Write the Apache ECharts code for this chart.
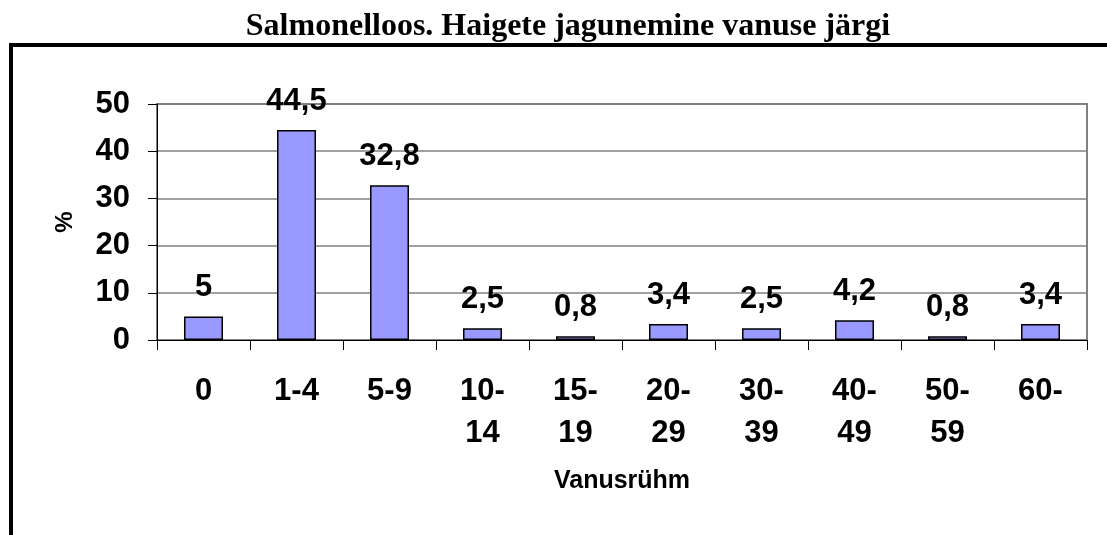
<!DOCTYPE html>
<html>
<head>
<meta charset="utf-8">
<script src="https://cdn.jsdelivr.net/npm/echarts@6/dist/echarts.min.js"></script>
<style>
  html, body { margin: 0; padding: 0; background: #fff; }
  #chart { width: 1107px; height: 535px; }
</style>
</head>
<body>
<div id="chart"></div>
<script>
const ageGroups = ['0', '1-4', '5-9', '10-\n14', '15-\n19', '20-\n29', '30-\n39', '40-\n49', '50-\n59', '60-'];
const shares = [5, 44.5, 32.8, 2.5, 0.8, 3.4, 2.5, 4.2, 0.8, 3.4];

const chart = echarts.init(document.getElementById('chart'));
chart.setOption({
    animation: false,
    title: {
        text: 'Salmonelloos. Haigete jagunemine vanuse järgi',
        left: 563,
        textAlign: 'center',
        top: 6,
        textStyle: {
            fontFamily: 'Liberation Serif',
            fontWeight: 'bold',
            fontSize: 32,
            color: '#000'
        }
    },
    graphic: [
        {
            type: 'polyline',
            shape: {points: [[11, 535], [11, 45], [1107, 45]]},
            style: {stroke: '#000', lineWidth: 4, fill: null}
        }
    ],
    grid: {
        left: 157,
        right: 20,
        top: 104,
        bottom: 195,
        show: true,
        borderColor: '#808080',
        borderWidth: 2
    },
    xAxis: {
        type: 'category',
        data: ageGroups,
        name: 'Vanusrühm',
        nameLocation: 'middle',
        nameGap: 129,
        nameTextStyle: {
            fontFamily: 'Liberation Sans',
            fontWeight: 'bold',
            fontSize: 25,
            color: '#000'
        },
        axisLine: {lineStyle: {color: '#000', width: 1}},
        axisTick: {show: true, length: 10, lineStyle: {color: '#000'}},
        axisLabel: {
            interval: 0,
            margin: 30,
            lineHeight: 42,
            fontFamily: 'Liberation Sans',
            fontWeight: 'bold',
            fontSize: 31,
            color: '#000'
        }
    },
    yAxis: {
        type: 'value',
        min: 0,
        max: 50,
        interval: 10,
        name: '%',
        nameLocation: 'middle',
        nameRotate: 90,
        nameGap: 80,
        nameTextStyle: {
            fontFamily: 'Liberation Sans',
            fontWeight: 'bold',
            fontSize: 24,
            color: '#000'
        },
        axisLine: {show: true, lineStyle: {color: '#000', width: 1}},
        axisTick: {show: true, length: 9, lineStyle: {color: '#000'}},
        splitLine: {lineStyle: {color: '#808080', width: 1.5}},
        axisLabel: {
            margin: 27,
            fontFamily: 'Liberation Sans',
            fontWeight: 'bold',
            fontSize: 31,
            color: '#000'
        }
    },
    series: [
        {
            type: 'bar',
            data: shares,
            barWidth: 39,
            itemStyle: {
                color: '#9999ff',
                borderColor: '#000',
                borderWidth: 1.5
            },
            label: {
                show: true,
                position: 'top',
                distance: 13,
                fontFamily: 'Liberation Sans',
                fontWeight: 'bold',
                fontSize: 31,
                color: '#000',
                formatter: p => String(p.value).replace('.', ',')
            }
        }
    ]
});
</script>
</body>
</html>
